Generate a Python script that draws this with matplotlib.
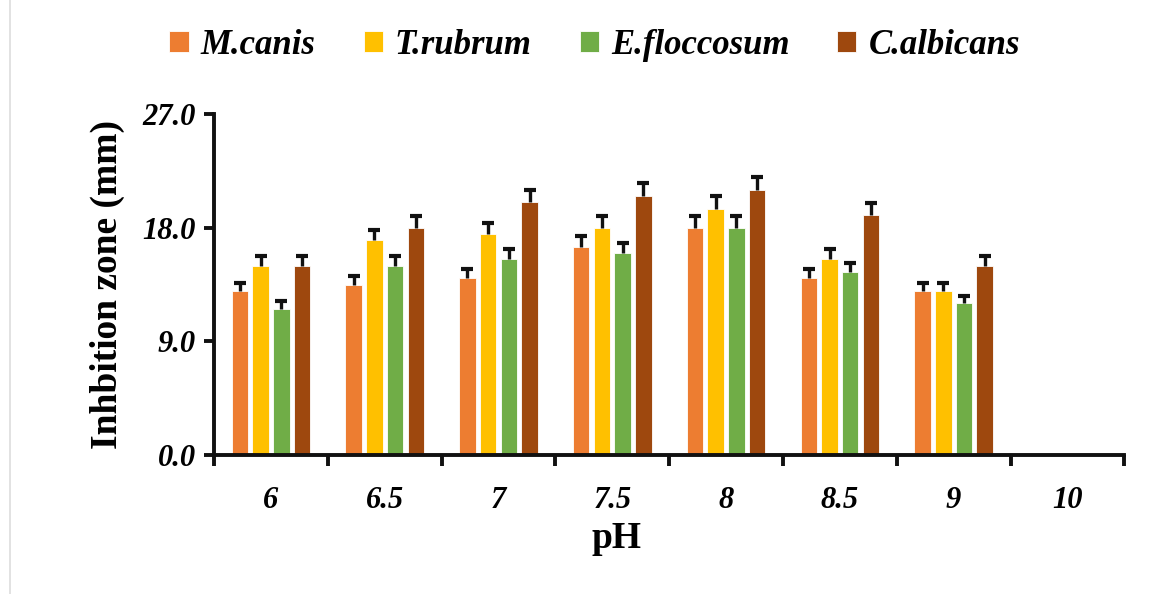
import matplotlib
matplotlib.use('Agg')
import matplotlib.pyplot as plt
from matplotlib.lines import Line2D
import numpy as np

# pH values on the x axis
ph_labels = ["6", "6.5", "7", "7.5", "8", "8.5", "9", "10"]

# inhibition zone (mm) for each organism
m_canis     = [13.0, 13.5, 14.0, 16.5, 18.0, 14.0, 13.0, 0.0]
t_rubrum    = [15.0, 17.0, 17.5, 18.0, 19.5, 15.5, 13.0, 0.0]
e_floccosum = [11.6, 15.0, 15.5, 16.0, 18.0, 14.5, 12.0, 0.0]
c_albicans  = [15.0, 18.0, 20.0, 20.5, 21.0, 19.0, 15.0, 0.0]

# error bars (upper only)
m_canis_err     = [0.65, 0.68, 0.70, 0.83, 0.90, 0.70, 0.65, 0.0]
t_rubrum_err    = [0.75, 0.85, 0.88, 0.90, 0.98, 0.78, 0.65, 0.0]
e_floccosum_err = [0.58, 0.75, 0.78, 0.80, 0.90, 0.73, 0.60, 0.0]
c_albicans_err  = [0.75, 0.90, 1.00, 1.03, 1.05, 0.95, 0.75, 0.0]

names = ["M.canis", "T.rubrum", "E.floccosum", "C.albicans"]
colors = ["#ED7D31", "#FFC000", "#70AD47", "#9E480E"]

series = [m_canis, t_rubrum, e_floccosum, c_albicans]
errors = [m_canis_err, t_rubrum_err, e_floccosum_err, c_albicans_err]

SERIF = ["Liberation Serif", "DejaVu Serif"]

fig = plt.figure(figsize=(11.73, 5.94), dpi=100)
ax = fig.add_axes([0.1825, 0.234, 0.776, 0.574])

x = np.arange(len(ph_labels))
pitch = 0.182
width = 0.145
for i in range(4):
    offs = (i - 1.5) * pitch
    ax.bar(x + offs, series[i], width, color=colors[i], edgecolor="white",
           linewidth=0.6, label=names[i], zorder=2)
    vals = np.array(series[i])
    errs = np.array(errors[i])
    show = vals > 0
    _, caps, _ = ax.errorbar((x + offs)[show], vals[show],
                             yerr=[np.zeros(show.sum()), errs[show]],
                             fmt="none", ecolor="#111111", elinewidth=2.4,
                             capsize=4.5, capthick=3.0, zorder=3)
    caps[0].set_visible(False)  # no lower cap

ax.set_xlim(-0.5, 7.5)
ax.set_ylim(0, 27)
ax.set_yticks([0, 9, 18, 27])
ax.set_yticklabels(["0.0", "9.0", "18.0", "27.0"])
ax.set_xticks(x)
ax.set_xticklabels(ph_labels)
ax.set_xticks(np.arange(-0.5, 8.0, 1.0), minor=True)

for s in ("top", "right"):
    ax.spines[s].set_visible(False)
for s in ("left", "bottom"):
    ax.spines[s].set_linewidth(2.8)
    ax.spines[s].set_color("#111111")

ax.tick_params(axis="x", which="major", length=0, pad=22)
ax.tick_params(axis="x", which="minor", length=8, width=2.8, color="#111111", direction="out")
ax.tick_params(axis="y", length=7, width=2.8, color="#111111", direction="out", pad=6)

for lab in ax.get_xticklabels() + ax.get_yticklabels():
    lab.set_fontfamily(SERIF)
    lab.set_fontweight("bold")
    lab.set_fontstyle("italic")
    lab.set_fontsize(22)

ax.set_ylabel("Inhbition zone (mm)", fontfamily=SERIF, fontweight="bold",
              fontsize=27, labelpad=13)
ax.set_xlabel("pH", fontfamily=SERIF, fontweight="bold", fontsize=27)
ax.xaxis.set_label_coords(0.442, -0.195)

leg = fig.legend(loc="center", bbox_to_anchor=(0.507, 0.924), ncol=4, frameon=False,
                 handlelength=0.55, handleheight=0.55, handletextpad=0.35,
                 columnspacing=1.38,
                 prop={"family": SERIF, "weight": "bold", "style": "italic", "size": 25})

# faint frame line at left edge of the original screenshot
fig.add_artist(Line2D([0.0085, 0.0085], [0, 1], color="#DDDDDD", linewidth=1.2,
                      transform=fig.transFigure))

plt.savefig("out.png", dpi=100)
